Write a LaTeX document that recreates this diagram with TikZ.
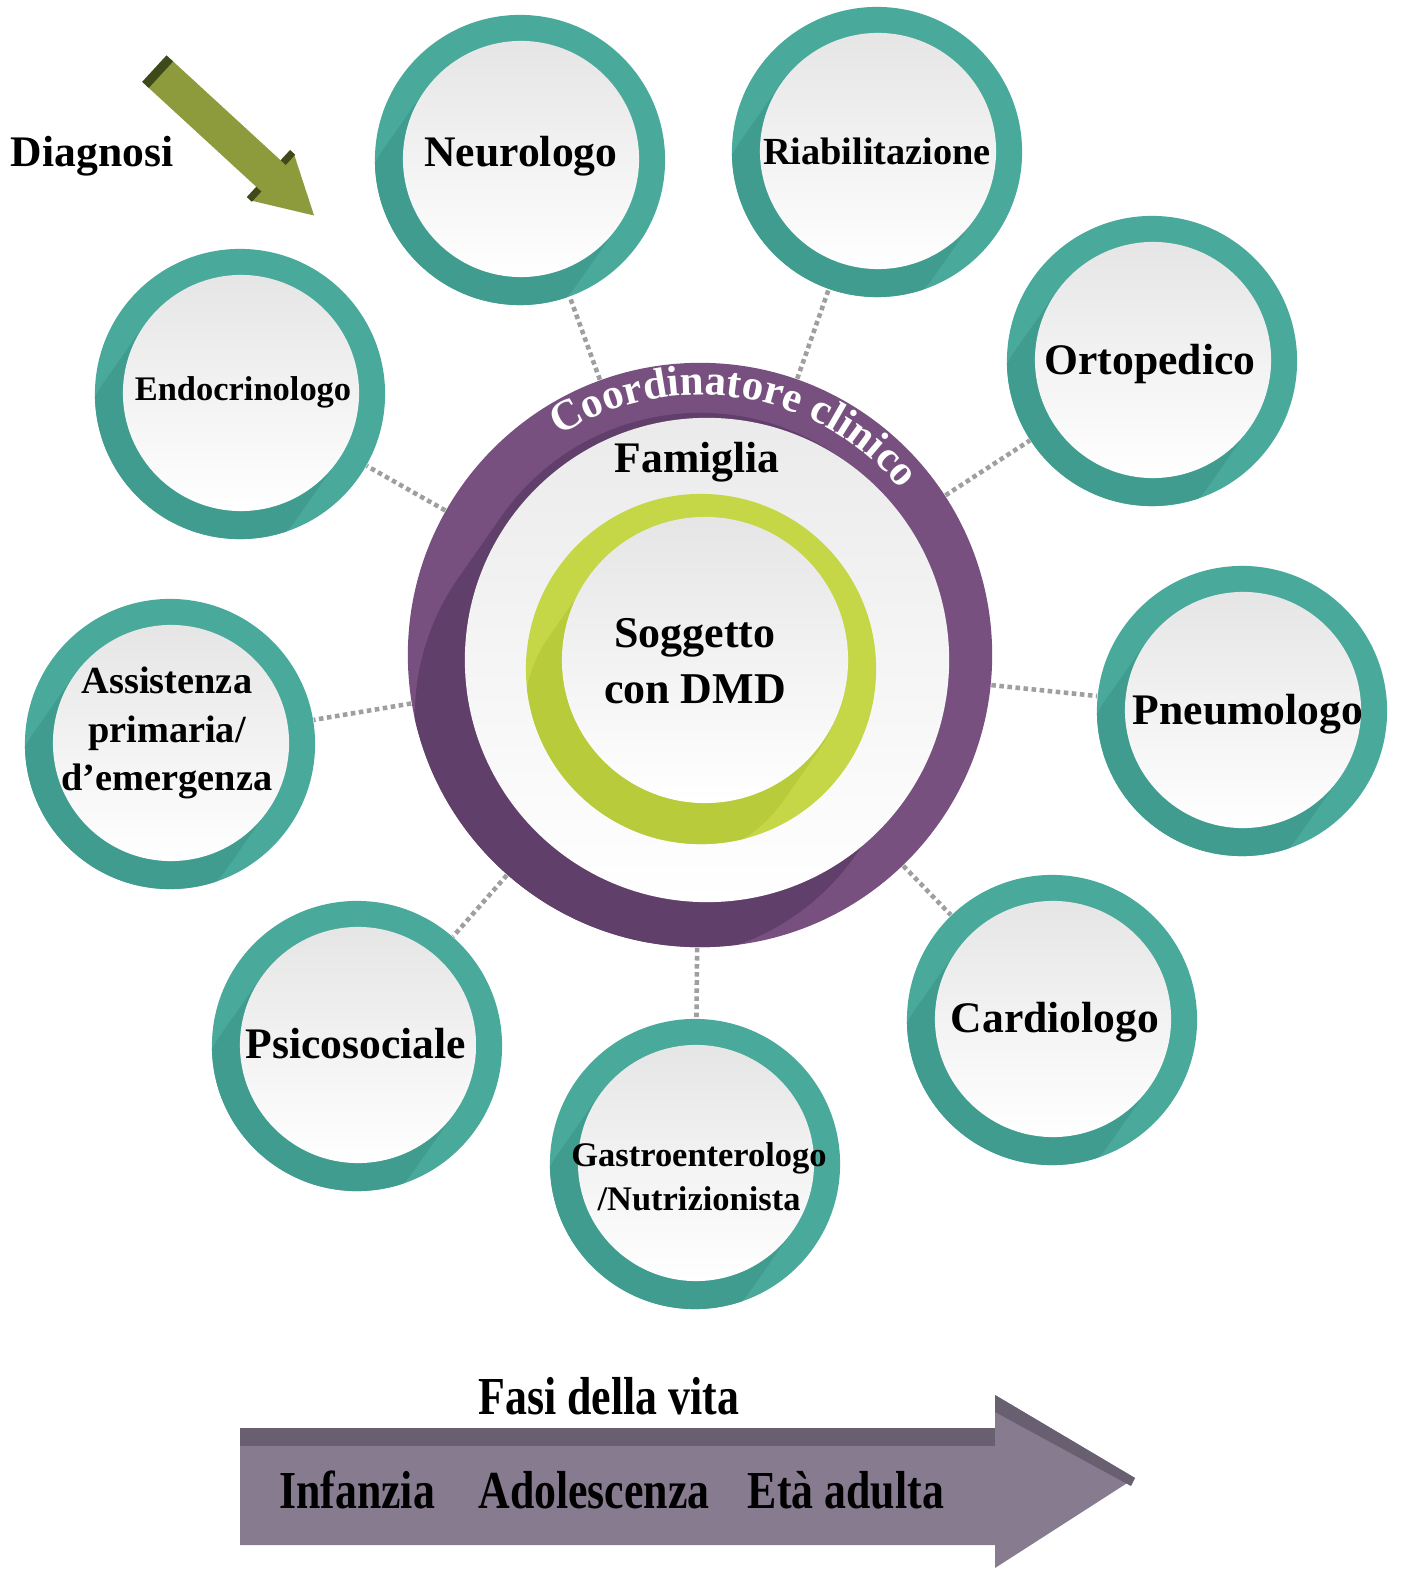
\documentclass[tikz,border=0pt]{standalone}
\usepackage{fontspec}
\setmainfont{Liberation Serif}
\newfontfamily\narrowfont[FakeStretch=0.82]{Liberation Serif}
\usetikzlibrary{decorations.text}

\definecolor{tealring}{RGB}{73,169,155}
\definecolor{tealshade}{RGB}{64,156,143}
\definecolor{hubpurple}{RGB}{119,80,128}
\definecolor{hubshade}{RGB}{97,63,107}
\definecolor{limering}{RGB}{197,215,70}
\definecolor{limeshade}{RGB}{184,203,58}
\definecolor{olivearrow}{RGB}{141,155,61}
\definecolor{olivedark}{RGB}{62,74,26}
\definecolor{lifearrow}{RGB}{135,123,143}
\definecolor{lifedark}{RGB}{104,95,112}

\begin{document}
\begin{tikzpicture}[x=0.01cm, y=-0.01cm,
    ring/.style={circle, fill=tealring, minimum size=2.9cm, inner sep=0pt,
        path picture={\draw [tealshade, line width=2.36cm, line cap=round]
            (path picture bounding box.center) -- ++(-125:0.7cm);}},
    disc/.style={circle, minimum size=2.36cm, inner sep=0pt, top color=gray!20, bottom color=white},
    lbl/.style={font=\bfseries\fontsize{12.4}{14}\selectfont, align=center, inner sep=0pt},
    lblsmall/.style={font=\bfseries\fontsize{9.8}{12.5}\selectfont, align=center, inner sep=0pt},
    lblmid/.style={font=\bfseries\fontsize{10.9}{13.9}\selectfont, align=center, inner sep=0pt},
    lblnarrow/.style={font=\narrowfont\bfseries\fontsize{15.2}{18}\selectfont, inner sep=0pt},
    link/.style={densely dotted, gray!75, line width=1.3pt}
]
    \useasboundingbox (0,0) rectangle (1403,1574);

    % Diagnosi arrow
    \node [lbl] (diag) at (92,156) {Diagnosi};
    \begin{scope}[shift={(158,72)}, rotate=-42.6]
        \fill [olivearrow] (0,-18) -- (155,-18) -- (155,-32) -- (212,0) -- (155,32) -- (155,18) -- (0,18) -- cycle;
        \fill [olivedark] (-5,-18) rectangle (4,18);
        \fill [olivedark] (150,-32) rectangle (157,-18);
        \fill [olivedark] (150,18) rectangle (157,32);
    \end{scope}

    % central hub
    \node [circle, fill=hubpurple, minimum size=5.84cm, inner sep=0pt,
        path picture={\draw [hubshade, line width=4.84cm, line cap=round]
            (path picture bounding box.center) -- ++(-125:0.75cm);}] (hub) at (700,655) {};
    \node [disc, minimum size=4.84cm, top color=gray!16] (fam) at (707,660) {};
    \node [circle, fill=limering, minimum size=3.5cm, inner sep=0pt,
        path picture={\draw [limeshade, line width=2.86cm, line cap=round]
            (path picture bounding box.center) -- ++(-125:0.6cm);}] (lime) at (701,669) {};
    \node [disc, minimum size=2.86cm] (dmd) at (705,660) {};

    \path [decorate, decoration={text along path, text align=center,
        text={|\bfseries\color{white}\fontsize{12.2}{14}\selectfont|Coordinatore clinico}}]
        (hub.center) ++(125:2.6cm) arc [start angle=125, end angle=37, radius=2.6cm];
    \node [lbl] (famt) at (697,462) {Famiglia};
    \node [lbl, font=\bfseries\fontsize{12.5}{16}\selectfont] (dmdt) at (695,661) {Soggetto\\con DMD};

    % specialists
    \node [ring] (neuro) at (520,160) {};
    \node [disc] (neurod) at (521,159) {};
    \node [lbl] (neurot) at (521,156) {Neurologo};

    \node [ring] (riab) at (877,152) {};
    \node [disc] (riabd) at (878,151) {};
    \node [lblmid] (riabt) at (877,151) {Riabilitazione};

    \node [ring] (orto) at (1152,361) {};
    \node [disc] (ortod) at (1153,360) {};
    \node [lbl] (ortot) at (1150,364) {Ortopedico};

    \node [ring] (pneumo) at (1242,711) {};
    \node [disc] (pneumod) at (1243,710) {};
    \node [lbl] (pneumot) at (1248,714) {Pneumologo};

    \node [ring] (cardio) at (1052,1020) {};
    \node [disc] (cardiod) at (1053,1019) {};
    \node [lbl] (cardiot) at (1055,1022) {Cardiologo};

    \node [ring] (gastro) at (695,1164) {};
    \node [disc] (gastrod) at (696,1163) {};
    \node [lblsmall, font=\bfseries\fontsize{9.8}{12.6}\selectfont] (gastrot) at (699,1177) {Gastroenterologo\\/Nutrizionista};

    \node [ring] (psico) at (357,1046) {};
    \node [disc] (psicod) at (358,1045) {};
    \node [lbl] (psicot) at (356,1044) {Psicosociale};

    \node [ring] (assist) at (170,744) {};
    \node [disc] (assistd) at (171,743) {};
    \node [lblmid] (assistt) at (167,733) {Assistenza\\primaria/\\d’emergenza};

    \node [ring] (endo) at (240,394) {};
    \node [disc] (endod) at (241,393) {};
    \node [lblsmall] (endot) at (243,392) {Endocrinologo};

    % dotted links
    \draw [link] (hub) -- (neuro);
    \draw [link] (hub) -- (riab);
    \draw [link] (hub) -- (orto);
    \draw [link] (hub) -- (pneumo);
    \draw [link] (hub) -- (cardio);
    \draw [link] (hub) -- (gastro);
    \draw [link] (hub) -- (psico);
    \draw [link] (hub) -- (assist);
    \draw [link] (hub) -- (endo);

    % life stages arrow
    \fill [lifearrow] (240,1428) -- (995,1428) -- (995,1395) -- (1135,1478) -- (995,1568)
        -- (995,1545) -- (240,1545) -- cycle;
    \fill [lifedark] (240,1428) rectangle (995,1446);
    \fill [lifedark] (995,1395) -- (1135,1478) -- (1131,1486) -- (995,1412) -- cycle;
    \node [lblnarrow] (fasi) at (609,1396) {Fasi della vita};
    \node [lblnarrow] (infanzia) at (357,1490) {Infanzia};
    \node [lblnarrow] (adol) at (594,1490) {Adolescenza};
    \node [lblnarrow] (adulta) at (846,1490) {Età adulta};
\end{tikzpicture}
\end{document}
